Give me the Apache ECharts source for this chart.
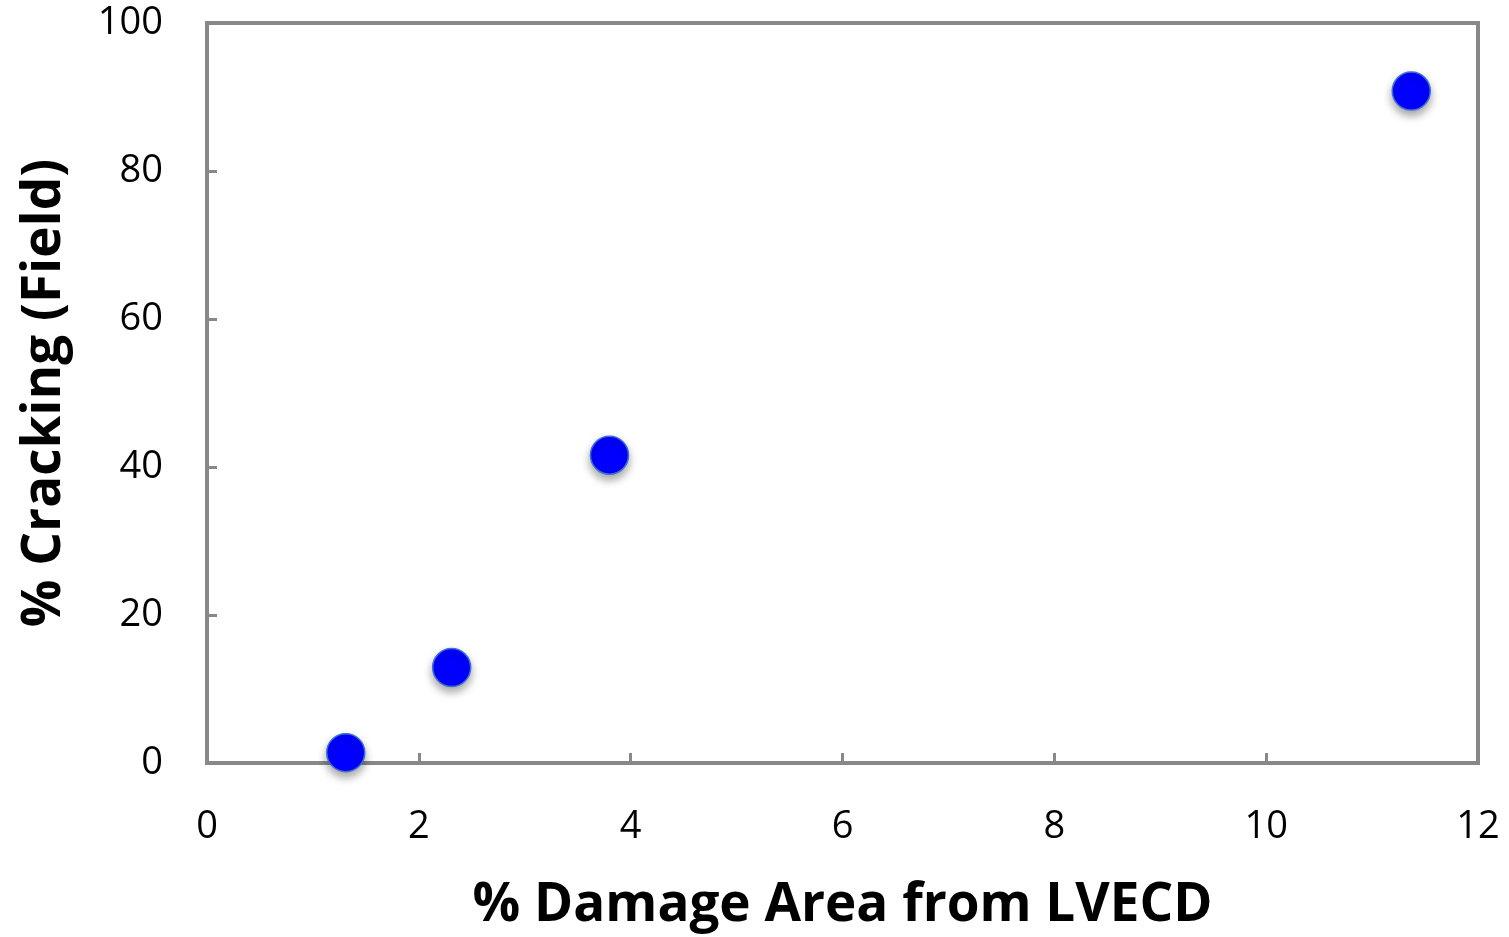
<!DOCTYPE html>
<html>
<head>
<meta charset="utf-8">
<script src="https://cdn.jsdelivr.net/npm/echarts@6/dist/echarts.min.js"></script>
<style>
html,body{margin:0;padding:0;background:#fff;}
#chart{width:1509px;height:937px;}
</style>
</head>
<body>
<div id="chart"></div>
<script>
const damageArea = [1.31, 2.31, 3.80, 11.37];
const crackingField = [1.4, 12.9, 41.6, 90.8];
const xTitle = '% Damage Area from LVECD';
const yTitle = '% Cracking (Field)';

const points = damageArea.map((x, i) => [x, crackingField[i]]);
const chart = echarts.init(document.getElementById('chart'));
const axisLine = {show: true, onZero: false, lineStyle: {color: '#888888', width: 4}};
chart.setOption({
  animation: false,
  backgroundColor: '#ffffff',
  grid: {left: 207, right: 31, top: 23, bottom: 174, containLabel: false, outerBoundsMode: 'none',
         show: true, borderColor: '#888888', borderWidth: 4, backgroundColor: 'transparent'},
  xAxis: {
    type: 'value', min: 0, max: 12, interval: 2,
    axisLine: axisLine,
    axisTick: {show: true, inside: true, length: 10, lineStyle: {color: '#888888', width: 3}},
    splitLine: {show: false},
    axisLabel: {fontFamily: 'Open Sans', fontSize: 38, color: '#000', margin: 45},
    name: xTitle, nameLocation: 'middle', nameGap: 116,
    nameTextStyle: {fontFamily: 'Open Sans', fontWeight: 'bold', fontSize: 53, color: '#000'}
  },
  yAxis: {
    type: 'value', min: 0, max: 100, interval: 20,
    axisLine: axisLine,
    axisTick: {show: true, inside: true, length: 10, lineStyle: {color: '#888888', width: 3}},
    splitLine: {show: false},
    axisLabel: {fontFamily: 'Open Sans', fontSize: 38, color: '#000', margin: 44, padding: [6, 0, 0, 0]},
    name: yTitle, nameLocation: 'middle', nameGap: 136, nameRotate: 90,
    nameTextStyle: {fontFamily: 'Open Sans', fontWeight: 'bold', fontSize: 53, color: '#000'}
  },
  series: [{
    type: 'scatter',
    data: points,
    symbol: 'circle',
    symbolSize: 38,
    itemStyle: {color: '#0000ff', borderColor: '#3f6fd0', borderWidth: 1.5, shadowColor: 'rgba(0,0,0,0.35)', shadowBlur: 8, shadowOffsetY: 5, opacity: 1}
  }]
});
</script>
</body>
</html>
